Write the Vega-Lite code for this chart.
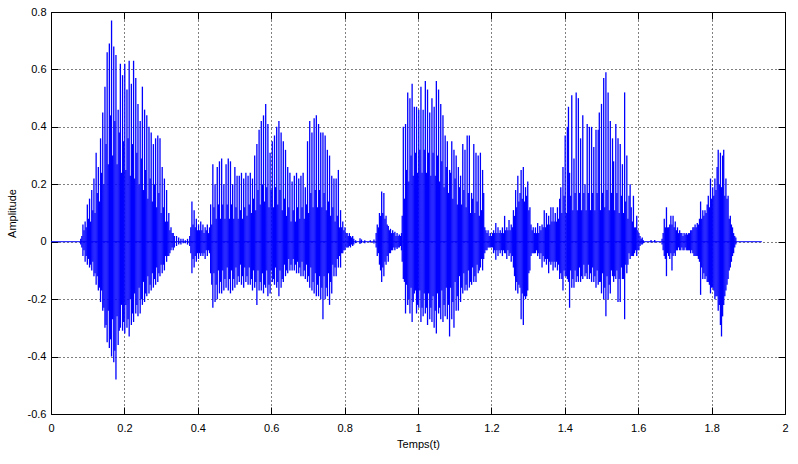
{
"$schema":"https://vega.github.io/schema/vega-lite/v6.json",
"width":734,"height":402,
"autosize":"none",
"padding":{"left":51,"top":12,"right":13,"bottom":50},
"background":"white",
"config":{"view":{"stroke":"black","strokeWidth":1},"font":"Liberation Sans"},
"datasets":{
"base":[{"t0":0,"t1":1.937,"a":0}],
"wave":[
{"t":0.081,"h":0.01,"l":-0.01},{"t":0.084,"h":0.02,"l":-0.02},{"t":0.087,"h":0.06,"l":-0.05},{"t":0.090,"h":0.04,"l":-0.03},{"t":0.093,"h":0.07,"l":-0.07},{"t":0.096,"h":0.05,"l":-0.05},{"t":0.099,"h":0.13,"l":-0.08},{"t":0.102,"h":0.08,"l":-0.06},{"t":0.105,"h":0.15,"l":-0.09},{"t":0.108,"h":0.07,"l":-0.08},{"t":0.111,"h":0.18,"l":-0.10},{"t":0.114,"h":0.11,"l":-0.07},{"t":0.117,"h":0.22,"l":-0.12},{"t":0.120,"h":0.10,"l":-0.11},{"t":0.123,"h":0.31,"l":-0.15},{"t":0.126,"h":0.17,"l":-0.12},{"t":0.129,"h":0.26,"l":-0.17},{"t":0.132,"h":0.14,"l":-0.16},{"t":0.135,"h":0.36,"l":-0.21},{"t":0.138,"h":0.24,"l":-0.17},{"t":0.141,"h":0.45,"l":-0.24},{"t":0.144,"h":0.20,"l":-0.23},{"t":0.147,"h":0.54,"l":-0.30},{"t":0.150,"h":0.34,"l":-0.29},{"t":0.153,"h":0.66,"l":-0.35},{"t":0.156,"h":0.27,"l":-0.24},{"t":0.159,"h":0.69,"l":-0.37},{"t":0.162,"h":0.44,"l":-0.34},{"t":0.165,"h":0.77,"l":-0.40},{"t":0.168,"h":0.30,"l":-0.27},{"t":0.171,"h":0.68,"l":-0.42},{"t":0.174,"h":0.42,"l":-0.38},{"t":0.177,"h":0.65,"l":-0.48},{"t":0.180,"h":0.27,"l":-0.26},{"t":0.183,"h":0.46,"l":-0.36},{"t":0.186,"h":0.38,"l":-0.31},{"t":0.189,"h":0.62,"l":-0.30},{"t":0.192,"h":0.24,"l":-0.22},{"t":0.195,"h":0.58,"l":-0.31},{"t":0.198,"h":0.35,"l":-0.28},{"t":0.201,"h":0.62,"l":-0.32},{"t":0.204,"h":0.25,"l":-0.22},{"t":0.207,"h":0.53,"l":-0.30},{"t":0.210,"h":0.36,"l":-0.27},{"t":0.213,"h":0.63,"l":-0.33},{"t":0.216,"h":0.23,"l":-0.20},{"t":0.219,"h":0.55,"l":-0.29},{"t":0.222,"h":0.34,"l":-0.25},{"t":0.225,"h":0.63,"l":-0.28},{"t":0.228,"h":0.22,"l":-0.18},{"t":0.231,"h":0.57,"l":-0.25},{"t":0.234,"h":0.31,"l":-0.22},{"t":0.237,"h":0.48,"l":-0.26},{"t":0.240,"h":0.20,"l":-0.16},{"t":0.243,"h":0.42,"l":-0.25},{"t":0.246,"h":0.29,"l":-0.20},{"t":0.249,"h":0.54,"l":-0.22},{"t":0.252,"h":0.18,"l":-0.14},{"t":0.255,"h":0.46,"l":-0.21},{"t":0.258,"h":0.25,"l":-0.18},{"t":0.261,"h":0.44,"l":-0.19},{"t":0.264,"h":0.15,"l":-0.12},{"t":0.267,"h":0.40,"l":-0.18},{"t":0.270,"h":0.22,"l":-0.15},{"t":0.273,"h":0.38,"l":-0.17},{"t":0.276,"h":0.14,"l":-0.11},{"t":0.279,"h":0.34,"l":-0.16},{"t":0.282,"h":0.20,"l":-0.13},{"t":0.285,"h":0.36,"l":-0.15},{"t":0.288,"h":0.12,"l":-0.09},{"t":0.291,"h":0.37,"l":-0.14},{"t":0.294,"h":0.17,"l":-0.11},{"t":0.297,"h":0.36,"l":-0.12},{"t":0.300,"h":0.10,"l":-0.08},{"t":0.303,"h":0.26,"l":-0.11},{"t":0.306,"h":0.12,"l":-0.08},{"t":0.309,"h":0.22,"l":-0.10},{"t":0.312,"h":0.07,"l":-0.05},{"t":0.315,"h":0.18,"l":-0.07},{"t":0.318,"h":0.07,"l":-0.05},{"t":0.321,"h":0.10,"l":-0.05},{"t":0.324,"h":0.04,"l":-0.04},{"t":0.327,"h":0.05,"l":-0.03},{"t":0.330,"h":0.03,"l":-0.02},{"t":0.333,"h":0.03,"l":-0.03},{"t":0.336,"h":0.02,"l":-0.02},{"t":0.342,"h":0.02,"l":-0.015},{"t":0.348,"h":0.015,"l":-0.01},{"t":0.354,"h":0.01,"l":-0.01},{"t":0.360,"h":0.01,"l":-0.005},{"t":0.366,"h":0.005,"l":-0.005},{"t":0.372,"h":0.01,"l":-0.01},{"t":0.378,"h":0.02,"l":-0.015},
{"t":0.381,"h":0.05,"l":-0.04},{"t":0.384,"h":0.14,"l":-0.11},{"t":0.387,"h":0.06,"l":-0.06},{"t":0.390,"h":0.11,"l":-0.09},{"t":0.393,"h":0.05,"l":-0.05},{"t":0.396,"h":0.08,"l":-0.07},{"t":0.399,"h":0.04,"l":-0.04},{"t":0.402,"h":0.06,"l":-0.06},{"t":0.405,"h":0.04,"l":-0.04},{"t":0.408,"h":0.07,"l":-0.05},{"t":0.411,"h":0.04,"l":-0.04},{"t":0.414,"h":0.06,"l":-0.05},{"t":0.417,"h":0.03,"l":-0.04},{"t":0.420,"h":0.05,"l":-0.06},{"t":0.423,"h":0.04,"l":-0.03},{"t":0.426,"h":0.06,"l":-0.05},{"t":0.429,"h":0.03,"l":-0.03},{"t":0.432,"h":0.05,"l":-0.04},
{"t":0.435,"h":0.13,"l":-0.11},{"t":0.438,"h":0.06,"l":-0.15},{"t":0.441,"h":0.27,"l":-0.23},{"t":0.444,"h":0.12,"l":-0.11},{"t":0.447,"h":0.20,"l":-0.21},{"t":0.450,"h":0.08,"l":-0.15},{"t":0.453,"h":0.26,"l":-0.20},{"t":0.456,"h":0.13,"l":-0.10},{"t":0.459,"h":0.28,"l":-0.18},{"t":0.462,"h":0.08,"l":-0.14},{"t":0.465,"h":0.29,"l":-0.18},{"t":0.468,"h":0.13,"l":-0.10},{"t":0.471,"h":0.20,"l":-0.17},{"t":0.474,"h":0.08,"l":-0.13},{"t":0.477,"h":0.27,"l":-0.16},{"t":0.480,"h":0.13,"l":-0.09},{"t":0.483,"h":0.29,"l":-0.17},{"t":0.486,"h":0.08,"l":-0.13},{"t":0.489,"h":0.28,"l":-0.18},{"t":0.492,"h":0.13,"l":-0.10},{"t":0.495,"h":0.20,"l":-0.17},{"t":0.498,"h":0.08,"l":-0.13},{"t":0.501,"h":0.26,"l":-0.16},{"t":0.504,"h":0.12,"l":-0.09},{"t":0.507,"h":0.23,"l":-0.15},{"t":0.510,"h":0.08,"l":-0.12},{"t":0.513,"h":0.23,"l":-0.14},{"t":0.516,"h":0.11,"l":-0.08},{"t":0.519,"h":0.24,"l":-0.15},{"t":0.522,"h":0.08,"l":-0.12},{"t":0.525,"h":0.22,"l":-0.16},{"t":0.528,"h":0.12,"l":-0.09},{"t":0.531,"h":0.24,"l":-0.14},{"t":0.534,"h":0.09,"l":-0.12},{"t":0.537,"h":0.23,"l":-0.15},{"t":0.540,"h":0.13,"l":-0.09},{"t":0.543,"h":0.24,"l":-0.15},{"t":0.546,"h":0.10,"l":-0.13},{"t":0.549,"h":0.22,"l":-0.17},{"t":0.552,"h":0.15,"l":-0.10},{"t":0.555,"h":0.30,"l":-0.16},{"t":0.558,"h":0.11,"l":-0.14},{"t":0.561,"h":0.34,"l":-0.22},{"t":0.564,"h":0.18,"l":-0.10},{"t":0.567,"h":0.39,"l":-0.17},{"t":0.570,"h":0.13,"l":-0.14},{"t":0.573,"h":0.42,"l":-0.17},{"t":0.576,"h":0.20,"l":-0.11},{"t":0.579,"h":0.44,"l":-0.18},{"t":0.582,"h":0.14,"l":-0.15},{"t":0.585,"h":0.48,"l":-0.16},{"t":0.588,"h":0.19,"l":-0.10},{"t":0.591,"h":0.41,"l":-0.19},{"t":0.594,"h":0.12,"l":-0.15},{"t":0.597,"h":0.31,"l":-0.18},{"t":0.600,"h":0.18,"l":-0.10},{"t":0.603,"h":0.35,"l":-0.14},{"t":0.606,"h":0.12,"l":-0.13},{"t":0.609,"h":0.37,"l":-0.15},{"t":0.612,"h":0.19,"l":-0.09},{"t":0.615,"h":0.40,"l":-0.16},{"t":0.618,"h":0.13,"l":-0.14},{"t":0.621,"h":0.42,"l":-0.19},{"t":0.624,"h":0.18,"l":-0.10},{"t":0.627,"h":0.38,"l":-0.16},{"t":0.630,"h":0.11,"l":-0.13},{"t":0.633,"h":0.35,"l":-0.14},{"t":0.636,"h":0.15,"l":-0.08},{"t":0.639,"h":0.32,"l":-0.12},{"t":0.642,"h":0.09,"l":-0.10},{"t":0.645,"h":0.26,"l":-0.11},{"t":0.648,"h":0.12,"l":-0.06},{"t":0.651,"h":0.24,"l":-0.10},{"t":0.654,"h":0.07,"l":-0.08},{"t":0.657,"h":0.21,"l":-0.10},{"t":0.660,"h":0.11,"l":-0.06},{"t":0.663,"h":0.23,"l":-0.10},{"t":0.666,"h":0.07,"l":-0.08},{"t":0.669,"h":0.24,"l":-0.11},{"t":0.672,"h":0.12,"l":-0.07},{"t":0.675,"h":0.22,"l":-0.11},{"t":0.678,"h":0.08,"l":-0.09},{"t":0.681,"h":0.23,"l":-0.12},{"t":0.684,"h":0.12,"l":-0.07},{"t":0.687,"h":0.24,"l":-0.12},{"t":0.690,"h":0.08,"l":-0.10},{"t":0.693,"h":0.19,"l":-0.13},{"t":0.696,"h":0.13,"l":-0.08},{"t":0.699,"h":0.35,"l":-0.14},{"t":0.702,"h":0.10,"l":-0.12},{"t":0.705,"h":0.42,"l":-0.16},{"t":0.708,"h":0.17,"l":-0.09},{"t":0.711,"h":0.38,"l":-0.17},{"t":0.714,"h":0.12,"l":-0.14},{"t":0.717,"h":0.43,"l":-0.18},{"t":0.720,"h":0.18,"l":-0.11},{"t":0.723,"h":0.44,"l":-0.19},{"t":0.726,"h":0.12,"l":-0.15},{"t":0.729,"h":0.41,"l":-0.19},{"t":0.732,"h":0.18,"l":-0.12},{"t":0.735,"h":0.38,"l":-0.20},{"t":0.738,"h":0.12,"l":-0.16},{"t":0.741,"h":0.38,"l":-0.27},{"t":0.744,"h":0.17,"l":-0.12},{"t":0.747,"h":0.37,"l":-0.20},{"t":0.750,"h":0.11,"l":-0.16},{"t":0.753,"h":0.32,"l":-0.19},{"t":0.756,"h":0.14,"l":-0.11},{"t":0.759,"h":0.30,"l":-0.22},{"t":0.762,"h":0.09,"l":-0.14},{"t":0.765,"h":0.23,"l":-0.18},{"t":0.768,"h":0.12,"l":-0.08},{"t":0.771,"h":0.22,"l":-0.12},{"t":0.774,"h":0.07,"l":-0.09},{"t":0.777,"h":0.22,"l":-0.12},{"t":0.780,"h":0.09,"l":-0.06},{"t":0.783,"h":0.25,"l":-0.09},{"t":0.786,"h":0.05,"l":-0.05},{"t":0.789,"h":0.11,"l":-0.09},{"t":0.792,"h":0.05,"l":-0.04},{"t":0.795,"h":0.07,"l":-0.04},{"t":0.798,"h":0.04,"l":-0.03},{"t":0.801,"h":0.05,"l":-0.03},{"t":0.804,"h":0.03,"l":-0.02},{"t":0.807,"h":0.03,"l":-0.02},{"t":0.810,"h":0.02,"l":-0.02},{"t":0.813,"h":0.03,"l":-0.015},{"t":0.816,"h":0.02,"l":-0.02},{"t":0.819,"h":0.015,"l":-0.01},{"t":0.822,"h":0.02,"l":-0.015},{"t":0.825,"h":0.01,"l":-0.01},{"t":0.830,"h":0.005,"l":-0.005},{"t":0.842,"h":0.012,"l":-0.008},{"t":0.846,"h":0.008,"l":-0.005},{"t":0.855,"h":0.005,"l":-0.005},{"t":0.870,"h":0.005,"l":-0.003},{"t":0.880,"h":0.008,"l":-0.006},
{"t":0.886,"h":0.03,"l":-0.02},{"t":0.889,"h":0.06,"l":-0.05},{"t":0.892,"h":0.05,"l":-0.04},{"t":0.895,"h":0.10,"l":-0.08},{"t":0.898,"h":0.09,"l":-0.10},{"t":0.901,"h":0.175,"l":-0.14},{"t":0.904,"h":0.10,"l":-0.09},{"t":0.907,"h":0.17,"l":-0.12},{"t":0.910,"h":0.08,"l":-0.07},{"t":0.913,"h":0.09,"l":-0.08},{"t":0.916,"h":0.06,"l":-0.05},{"t":0.919,"h":0.055,"l":-0.07},{"t":0.922,"h":0.04,"l":-0.04},{"t":0.925,"h":0.045,"l":-0.04},{"t":0.928,"h":0.03,"l":-0.03},{"t":0.931,"h":0.04,"l":-0.03},{"t":0.934,"h":0.03,"l":-0.02},{"t":0.937,"h":0.035,"l":-0.03},{"t":0.940,"h":0.02,"l":-0.02},{"t":0.943,"h":0.03,"l":-0.025},{"t":0.946,"h":0.02,"l":-0.02},{"t":0.949,"h":0.025,"l":-0.02},{"t":0.952,"h":0.02,"l":-0.015},{"t":0.955,"h":0.03,"l":-0.03},
{"t":0.957,"h":0.09,"l":-0.07},{"t":0.960,"h":0.40,"l":-0.13},{"t":0.963,"h":0.15,"l":-0.14},{"t":0.966,"h":0.41,"l":-0.25},{"t":0.969,"h":0.25,"l":-0.15},{"t":0.972,"h":0.52,"l":-0.22},{"t":0.975,"h":0.21,"l":-0.20},{"t":0.978,"h":0.50,"l":-0.25},{"t":0.981,"h":0.30,"l":-0.16},{"t":0.984,"h":0.55,"l":-0.28},{"t":0.987,"h":0.23,"l":-0.21},{"t":0.990,"h":0.47,"l":-0.18},{"t":0.993,"h":0.31,"l":-0.17},{"t":0.996,"h":0.47,"l":-0.25},{"t":0.999,"h":0.24,"l":-0.22},{"t":1.002,"h":0.46,"l":-0.23},{"t":1.005,"h":0.32,"l":-0.17},{"t":1.008,"h":0.54,"l":-0.28},{"t":1.011,"h":0.24,"l":-0.23},{"t":1.014,"h":0.46,"l":-0.26},{"t":1.017,"h":0.32,"l":-0.18},{"t":1.020,"h":0.56,"l":-0.25},{"t":1.023,"h":0.24,"l":-0.23},{"t":1.026,"h":0.53,"l":-0.29},{"t":1.029,"h":0.31,"l":-0.18},{"t":1.032,"h":0.45,"l":-0.27},{"t":1.035,"h":0.23,"l":-0.23},{"t":1.038,"h":0.50,"l":-0.28},{"t":1.041,"h":0.31,"l":-0.19},{"t":1.044,"h":0.47,"l":-0.30},{"t":1.047,"h":0.23,"l":-0.24},{"t":1.050,"h":0.56,"l":-0.32},{"t":1.053,"h":0.30,"l":-0.18},{"t":1.056,"h":0.53,"l":-0.25},{"t":1.059,"h":0.21,"l":-0.23},{"t":1.062,"h":0.48,"l":-0.27},{"t":1.065,"h":0.28,"l":-0.17},{"t":1.068,"h":0.44,"l":-0.28},{"t":1.071,"h":0.19,"l":-0.22},{"t":1.074,"h":0.37,"l":-0.26},{"t":1.077,"h":0.26,"l":-0.16},{"t":1.080,"h":0.35,"l":-0.27},{"t":1.083,"h":0.17,"l":-0.22},{"t":1.086,"h":0.25,"l":-0.33},{"t":1.089,"h":0.24,"l":-0.16},{"t":1.092,"h":0.35,"l":-0.27},{"t":1.095,"h":0.15,"l":-0.21},{"t":1.098,"h":0.32,"l":-0.30},{"t":1.101,"h":0.22,"l":-0.14},{"t":1.104,"h":0.30,"l":-0.24},{"t":1.107,"h":0.13,"l":-0.19},{"t":1.110,"h":0.26,"l":-0.24},{"t":1.113,"h":0.19,"l":-0.12},{"t":1.116,"h":0.23,"l":-0.21},{"t":1.119,"h":0.13,"l":-0.16},{"t":1.122,"h":0.34,"l":-0.18},{"t":1.125,"h":0.18,"l":-0.11},{"t":1.128,"h":0.32,"l":-0.17},{"t":1.131,"h":0.12,"l":-0.15},{"t":1.134,"h":0.37,"l":-0.17},{"t":1.137,"h":0.17,"l":-0.10},{"t":1.140,"h":0.37,"l":-0.16},{"t":1.143,"h":0.10,"l":-0.14},{"t":1.146,"h":0.17,"l":-0.15},{"t":1.149,"h":0.15,"l":-0.09},{"t":1.152,"h":0.34,"l":-0.14},{"t":1.155,"h":0.10,"l":-0.12},{"t":1.158,"h":0.31,"l":-0.14},{"t":1.161,"h":0.14,"l":-0.08},{"t":1.164,"h":0.30,"l":-0.11},{"t":1.167,"h":0.09,"l":-0.10},{"t":1.170,"h":0.31,"l":-0.09},{"t":1.173,"h":0.11,"l":-0.06},{"t":1.176,"h":0.25,"l":-0.10},{"t":1.179,"h":0.17,"l":-0.06},{"t":1.182,"h":0.05,"l":-0.04},{"t":1.185,"h":0.04,"l":-0.03},{"t":1.188,"h":0.03,"l":-0.03},{"t":1.191,"h":0.04,"l":-0.02},{"t":1.194,"h":0.02,"l":-0.02},{"t":1.197,"h":0.03,"l":-0.02},{"t":1.200,"h":0.02,"l":-0.02},{"t":1.203,"h":0.03,"l":-0.02},
{"t":1.206,"h":0.04,"l":-0.04},{"t":1.209,"h":0.03,"l":-0.03},{"t":1.212,"h":0.065,"l":-0.063},{"t":1.215,"h":0.03,"l":-0.03},{"t":1.218,"h":0.05,"l":-0.05},{"t":1.221,"h":0.03,"l":-0.03},{"t":1.224,"h":0.04,"l":-0.04},{"t":1.227,"h":0.03,"l":-0.03},{"t":1.230,"h":0.05,"l":-0.05},{"t":1.233,"h":0.03,"l":-0.03},{"t":1.236,"h":0.09,"l":-0.04},{"t":1.239,"h":0.04,"l":-0.04},{"t":1.242,"h":0.05,"l":-0.06},{"t":1.245,"h":0.04,"l":-0.03},{"t":1.248,"h":0.076,"l":-0.05},{"t":1.251,"h":0.04,"l":-0.04},{"t":1.254,"h":0.06,"l":-0.07},{"t":1.257,"h":0.05,"l":-0.05},
{"t":1.260,"h":0.11,"l":-0.09},{"t":1.263,"h":0.09,"l":-0.12},{"t":1.266,"h":0.18,"l":-0.17},{"t":1.269,"h":0.12,"l":-0.14},{"t":1.272,"h":0.23,"l":-0.18},{"t":1.275,"h":0.14,"l":-0.15},{"t":1.278,"h":0.17,"l":-0.16},{"t":1.281,"h":0.25,"l":-0.27},{"t":1.284,"h":0.15,"l":-0.18},{"t":1.287,"h":0.26,"l":-0.29},{"t":1.290,"h":0.14,"l":-0.19},{"t":1.293,"h":0.19,"l":-0.20},{"t":1.296,"h":0.16,"l":-0.19},{"t":1.299,"h":0.21,"l":-0.17},{"t":1.302,"h":0.11,"l":-0.11},{"t":1.305,"h":0.12,"l":-0.10},{"t":1.308,"h":0.06,"l":-0.05},{"t":1.311,"h":0.04,"l":-0.04},
{"t":1.314,"h":0.05,"l":-0.04},{"t":1.317,"h":0.03,"l":-0.04},{"t":1.320,"h":0.05,"l":-0.04},{"t":1.323,"h":0.03,"l":-0.03},{"t":1.326,"h":0.065,"l":-0.05},{"t":1.329,"h":0.03,"l":-0.04},{"t":1.332,"h":0.055,"l":-0.06},{"t":1.335,"h":0.04,"l":-0.04},{"t":1.338,"h":0.06,"l":-0.09},{"t":1.341,"h":0.05,"l":-0.05},{"t":1.344,"h":0.11,"l":-0.07},{"t":1.347,"h":0.05,"l":-0.06},{"t":1.350,"h":0.10,"l":-0.08},{"t":1.353,"h":0.06,"l":-0.06},{"t":1.356,"h":0.09,"l":-0.11},{"t":1.359,"h":0.06,"l":-0.07},{"t":1.362,"h":0.12,"l":-0.08},{"t":1.365,"h":0.07,"l":-0.07},{"t":1.368,"h":0.12,"l":-0.10},{"t":1.371,"h":0.07,"l":-0.07},{"t":1.374,"h":0.10,"l":-0.09},{"t":1.377,"h":0.07,"l":-0.07},{"t":1.380,"h":0.12,"l":-0.10},{"t":1.383,"h":0.08,"l":-0.08},{"t":1.386,"h":0.15,"l":-0.13},
{"t":1.389,"h":0.19,"l":-0.11},{"t":1.392,"h":0.10,"l":-0.13},{"t":1.395,"h":0.26,"l":-0.17},{"t":1.398,"h":0.16,"l":-0.10},{"t":1.401,"h":0.37,"l":-0.12},{"t":1.404,"h":0.10,"l":-0.12},{"t":1.407,"h":0.40,"l":-0.13},{"t":1.410,"h":0.47,"l":-0.14},{"t":1.413,"h":0.24,"l":-0.23},{"t":1.416,"h":0.16,"l":-0.10},{"t":1.419,"h":0.51,"l":-0.16},{"t":1.422,"h":0.11,"l":-0.13},{"t":1.425,"h":0.29,"l":-0.16},{"t":1.428,"h":0.17,"l":-0.10},{"t":1.431,"h":0.52,"l":-0.14},{"t":1.434,"h":0.11,"l":-0.12},{"t":1.437,"h":0.50,"l":-0.14},{"t":1.440,"h":0.17,"l":-0.09},{"t":1.443,"h":0.36,"l":-0.14},{"t":1.446,"h":0.11,"l":-0.12},{"t":1.449,"h":0.44,"l":-0.13},{"t":1.452,"h":0.17,"l":-0.08},{"t":1.455,"h":0.20,"l":-0.12},{"t":1.458,"h":0.11,"l":-0.11},{"t":1.461,"h":0.41,"l":-0.13},{"t":1.464,"h":0.17,"l":-0.08},{"t":1.467,"h":0.40,"l":-0.13},{"t":1.470,"h":0.11,"l":-0.11},{"t":1.473,"h":0.40,"l":-0.14},{"t":1.476,"h":0.17,"l":-0.09},{"t":1.479,"h":0.33,"l":-0.14},{"t":1.482,"h":0.11,"l":-0.12},{"t":1.485,"h":0.39,"l":-0.16},{"t":1.488,"h":0.17,"l":-0.10},{"t":1.491,"h":0.39,"l":-0.15},{"t":1.494,"h":0.45,"l":-0.14},{"t":1.497,"h":0.11,"l":-0.14},{"t":1.500,"h":0.48,"l":-0.18},{"t":1.503,"h":0.17,"l":-0.11},{"t":1.506,"h":0.57,"l":-0.20},{"t":1.509,"h":0.12,"l":-0.16},{"t":1.512,"h":0.59,"l":-0.26},{"t":1.515,"h":0.18,"l":-0.12},{"t":1.518,"h":0.52,"l":-0.20},{"t":1.521,"h":0.11,"l":-0.15},{"t":1.524,"h":0.42,"l":-0.18},{"t":1.527,"h":0.17,"l":-0.10},{"t":1.530,"h":0.36,"l":-0.12},{"t":1.533,"h":0.28,"l":-0.14},{"t":1.536,"h":0.11,"l":-0.12},{"t":1.539,"h":0.41,"l":-0.13},{"t":1.542,"h":0.17,"l":-0.10},{"t":1.545,"h":0.36,"l":-0.21},{"t":1.548,"h":0.10,"l":-0.13},{"t":1.551,"h":0.34,"l":-0.21},{"t":1.554,"h":0.16,"l":-0.09},{"t":1.557,"h":0.27,"l":-0.13},{"t":1.560,"h":0.10,"l":-0.13},{"t":1.563,"h":0.52,"l":-0.27},{"t":1.566,"h":0.14,"l":-0.08},{"t":1.569,"h":0.30,"l":-0.11},{"t":1.572,"h":0.08,"l":-0.08},{"t":1.575,"h":0.16,"l":-0.04},{"t":1.578,"h":0.20,"l":-0.06},{"t":1.581,"h":0.12,"l":-0.05},{"t":1.584,"h":0.07,"l":-0.05},{"t":1.587,"h":0.16,"l":-0.05},{"t":1.590,"h":0.05,"l":-0.04},{"t":1.593,"h":0.05,"l":-0.03},{"t":1.596,"h":0.09,"l":-0.05},{"t":1.599,"h":0.04,"l":-0.03},{"t":1.602,"h":0.03,"l":-0.03},{"t":1.605,"h":0.02,"l":-0.015},{"t":1.608,"h":0.01,"l":-0.01},{"t":1.611,"h":0.015,"l":-0.01},{"t":1.614,"h":0.005,"l":-0.005},{"t":1.635,"h":0.006,"l":-0.003},{"t":1.645,"h":0.006,"l":-0.003},
{"t":1.665,"h":0.01,"l":-0.01},{"t":1.668,"h":0.03,"l":-0.03},{"t":1.671,"h":0.08,"l":-0.05},{"t":1.674,"h":0.05,"l":-0.06},{"t":1.677,"h":0.12,"l":-0.12},{"t":1.680,"h":0.05,"l":-0.04},{"t":1.683,"h":0.05,"l":-0.05},{"t":1.686,"h":0.06,"l":-0.06},{"t":1.689,"h":0.09,"l":-0.04},{"t":1.692,"h":0.06,"l":-0.10},{"t":1.695,"h":0.09,"l":-0.05},{"t":1.698,"h":0.05,"l":-0.04},{"t":1.701,"h":0.07,"l":-0.05},{"t":1.704,"h":0.04,"l":-0.03},{"t":1.707,"h":0.05,"l":-0.03},{"t":1.710,"h":0.03,"l":-0.02},{"t":1.713,"h":0.04,"l":-0.03},{"t":1.716,"h":0.03,"l":-0.03},{"t":1.719,"h":0.03,"l":-0.02},{"t":1.722,"h":0.02,"l":-0.03},{"t":1.725,"h":0.03,"l":-0.03},{"t":1.728,"h":0.025,"l":-0.02},{"t":1.731,"h":0.03,"l":-0.03},{"t":1.734,"h":0.025,"l":-0.03},{"t":1.737,"h":0.03,"l":-0.03},{"t":1.740,"h":0.03,"l":-0.03},{"t":1.743,"h":0.04,"l":-0.04},{"t":1.746,"h":0.04,"l":-0.03},{"t":1.749,"h":0.05,"l":-0.04},{"t":1.752,"h":0.05,"l":-0.05},{"t":1.755,"h":0.06,"l":-0.05},{"t":1.758,"h":0.05,"l":-0.05},{"t":1.761,"h":0.065,"l":-0.05},{"t":1.764,"h":0.06,"l":-0.06},{"t":1.767,"h":0.08,"l":-0.07},{"t":1.770,"h":0.14,"l":-0.185},{"t":1.773,"h":0.08,"l":-0.09},{"t":1.776,"h":0.11,"l":-0.13},{"t":1.779,"h":0.09,"l":-0.11},{"t":1.782,"h":0.11,"l":-0.13},{"t":1.785,"h":0.10,"l":-0.12},{"t":1.788,"h":0.13,"l":-0.14},{"t":1.791,"h":0.16,"l":-0.14},{"t":1.794,"h":0.12,"l":-0.15},{"t":1.797,"h":0.22,"l":-0.18},{"t":1.800,"h":0.15,"l":-0.16},{"t":1.803,"h":0.19,"l":-0.16},{"t":1.806,"h":0.16,"l":-0.17},{"t":1.809,"h":0.22,"l":-0.20},{"t":1.812,"h":0.18,"l":-0.19},{"t":1.815,"h":0.26,"l":-0.19},{"t":1.818,"h":0.32,"l":-0.24},{"t":1.821,"h":0.20,"l":-0.22},{"t":1.824,"h":0.31,"l":-0.29},{"t":1.827,"h":0.19,"l":-0.33},{"t":1.830,"h":0.30,"l":-0.26},{"t":1.833,"h":0.32,"l":-0.22},{"t":1.836,"h":0.16,"l":-0.19},{"t":1.839,"h":0.22,"l":-0.17},{"t":1.842,"h":0.15,"l":-0.15},{"t":1.845,"h":0.16,"l":-0.13},{"t":1.848,"h":0.08,"l":-0.10},{"t":1.851,"h":0.09,"l":-0.09},{"t":1.854,"h":0.06,"l":-0.07},{"t":1.857,"h":0.05,"l":-0.05},{"t":1.860,"h":0.03,"l":-0.04},{"t":1.863,"h":0.02,"l":-0.02},{"t":1.866,"h":0.015,"l":-0.01}
]},
"layer":[
{"data":{"name":"base"},
 "mark":{"type":"rule","color":"#0000ff","strokeWidth":1},
 "encoding":{
  "x":{"field":"t0","type":"quantitative","scale":{"domain":[0,2],"nice":false,"zero":false},
   "axis":{"orient":"bottom","values":[0,0.2,0.4,0.6,0.8,1,1.2,1.4,1.6,1.8,2],"format":"~g","labelFlush":false,"labelOverlap":false,
    "grid":true,"gridColor":"black","gridDash":[1,3],"gridOpacity":1,"gridWidth":1,
    "domain":false,"ticks":true,"tickSize":-7,"tickColor":"black","tickWidth":1,
    "labelColor":"black","labelFont":"Liberation Sans","labelFontSize":11,"labelPadding":15,
    "title":"Temps(t)","titleFont":"Liberation Sans","titleFontSize":11,"titleFontWeight":"normal","titleColor":"black","titlePadding":5}},
  "x2":{"field":"t1"},
  "y":{"field":"a","type":"quantitative","scale":{"domain":[-0.6,0.8],"nice":false,"zero":false},
   "axis":{"orient":"left","values":[-0.6,-0.4,-0.2,0,0.2,0.4,0.6,0.8],
    "labelExpr":"datum.value < 0 ? '-' + format(-datum.value, '~g') : format(datum.value, '~g')",
    "labelFlush":false,"labelOverlap":false,
    "grid":true,"gridColor":"black","gridDash":[1,3],"gridOpacity":1,"gridWidth":1,
    "domain":false,"ticks":true,"tickSize":-7,"tickColor":"black","tickWidth":1,
    "labelColor":"black","labelFont":"Liberation Sans","labelFontSize":11,"labelPadding":12,"labelBaseline":"middle",
    "title":"Amplitude","titleFont":"Liberation Sans","titleFontSize":11,"titleFontWeight":"normal","titleColor":"black","titlePadding":10}}
 }},
{"data":{"name":"wave"},
 "mark":{"type":"rule","color":"#0000ff","strokeWidth":1.3},
 "encoding":{
  "x":{"field":"t","type":"quantitative",
   "axis":{"orient":"top","values":[0,0.2,0.4,0.6,0.8,1,1.2,1.4,1.6,1.8,2],"labels":false,"grid":false,"domain":false,
    "ticks":true,"tickSize":-7,"tickColor":"black","tickWidth":1,"title":null}},
  "y":{"field":"l","type":"quantitative",
   "axis":{"orient":"right","values":[-0.6,-0.4,-0.2,0,0.2,0.4,0.6,0.8],"labels":false,"grid":false,"domain":false,
    "ticks":true,"tickSize":-7,"tickColor":"black","tickWidth":1,"title":null}},
  "y2":{"field":"h"}
 }}
],
"resolve":{"axis":{"x":"independent","y":"independent"}}
}
